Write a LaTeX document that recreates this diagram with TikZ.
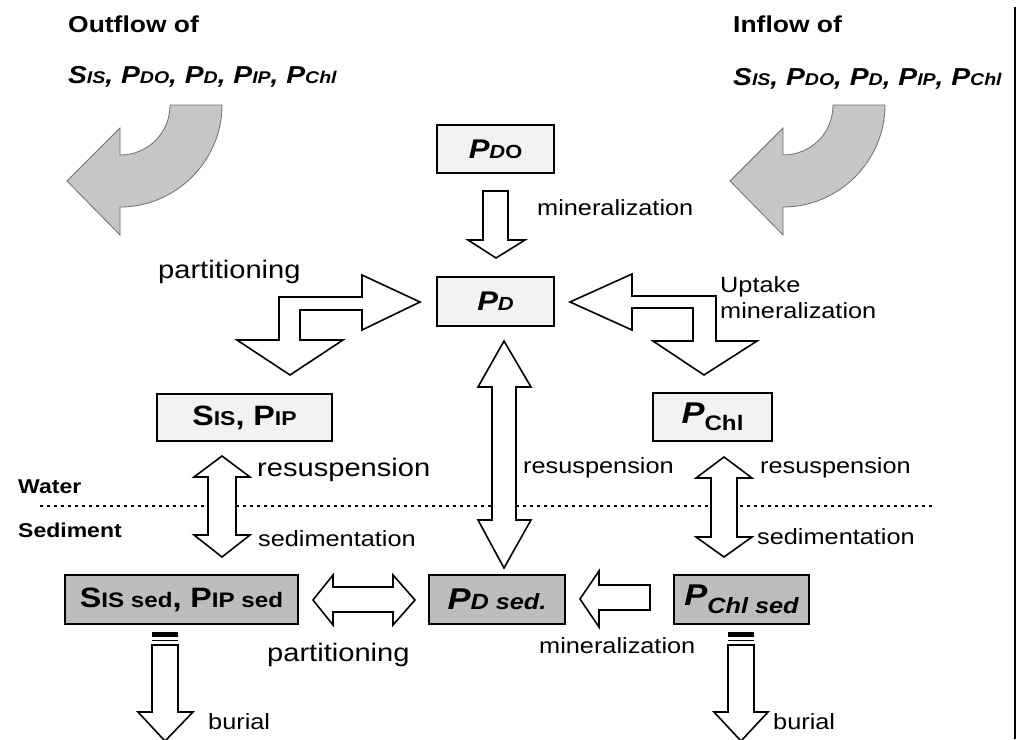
\documentclass[tikz,border=0pt]{standalone}
\usepackage{fontspec}
\setmainfont{Liberation Sans}[FakeStretch=1.15]
\newcommand{\fs}[1]{\fontsize{#1}{#1}\selectfont}
\newcommand{\biglist}{\bfseries\itshape{\fs{24.5}S}{\fs{17}IS}{\fs{24.5}, P}{\fs{17}DO}{\fs{24.5}, P}{\fs{17}D}{\fs{24.5}, P}{\fs{17}IP}{\fs{24.5}, P}{\fs{17}Chl}}
\definecolor{boxlight}{HTML}{F2F2F2}
\definecolor{boxdark}{HTML}{BDBDBD}
\definecolor{curvefill}{HTML}{C6C6C6}
\definecolor{curveline}{HTML}{6E6E6E}
\tikzset{
 box/.style={draw, line width=1.5pt, fill=boxlight, inner sep=0pt},
 sedbox/.style={box, fill=boxdark},
 blk/.style={draw, fill=white, line width=1.6pt, line join=miter},
 curv/.style={draw=curveline, fill=curvefill, line width=0.8pt},
 lbl/.style={anchor=west, inner sep=0pt, text height=11.4pt, text depth=0pt, font=\fs{22}},
 lblbig/.style={anchor=west, inner sep=0pt, text height=13.1pt, text depth=0pt, font=\fs{25.3}},
 hd/.style={anchor=west, inner sep=0pt, text height=16.5pt, text depth=0pt, font=\bfseries\fs{23}},
 wsd/.style={anchor=west, inner sep=0pt, text height=14.3pt, text depth=0pt, font=\bfseries\fs{20}},
}
\begin{document}
\begin{tikzpicture}[x=1pt,y=-1pt]
\useasboundingbox (0,0) rectangle (1025,739);
% frame line on the right
\draw[line width=2pt] (1015,7) -- (1015,739);
% headings
\node[hd] (outhd) at (68,24) {Outflow of};
\node[anchor=base west, inner sep=0pt] (outlist) at (68,83) {\biglist};
\node[hd] (inhd) at (733,24) {Inflow of};
\node[anchor=base west, inner sep=0pt] (inlist) at (733,85) {\biglist};
% curved gray arrows
\draw[curv] (170,105) -- (222,105) .. controls (222,161) and (176,207) .. (120,207) -- (120,235) -- (67,181) -- (120,128) -- (120,155) .. controls (148,155) and (170,133) .. (170,105) -- cycle;
\draw[curv] (833,105) -- (885,105) .. controls (885,161) and (839,207) .. (783,207) -- (783,235) -- (730,181) -- (783,128) -- (783,155) .. controls (811,155) and (833,133) .. (833,105) -- cycle;
% water / sediment boundary
\draw[line width=2.8pt, dash pattern=on 2.8pt off 4.2pt] (40,506) -- (932,506);
\node[wsd] (water) at (18,486) {Water};
\node[wsd] (sediment) at (18,530) {Sediment};
% boxes
\node[box, minimum width=117pt, minimum height=48pt] (pdo) at (495.5,149) {\bfseries\itshape{\fs{27}P}{\fs{19}D\upshape O}};
\node[box, minimum width=117pt, minimum height=49pt] (pd) at (495.5,301.5) {\bfseries\itshape{\fs{27}P}{\fs{19}D}};
\node[box, minimum width=175pt, minimum height=47pt] (sp) at (244.5,417.5) {\bfseries{\fs{28}S}{\fs{20}IS}{\fs{28}, P}{\fs{20}IP}};
\node[box, minimum width=119pt, minimum height=48pt] (pchl) at (712.5,417) {\bfseries{\fs{30}\itshape P}\raisebox{-7pt}{\fs{21}Chl}};
\node[sedbox, minimum width=233pt, minimum height=49pt] (ssed) at (181.5,599.5) {\bfseries{\fs{28}S}{\fs{21}IS sed}{\fs{28}, P}{\fs{21}IP sed}};
\node[sedbox, minimum width=136pt, minimum height=49pt] (pdsed) at (497,599.5) {\bfseries\itshape{\fs{30}P}{\fs{22}D sed.}};
\node[sedbox, minimum width=135pt, minimum height=49pt] (pchlsed) at (741.5,599.5) {\bfseries\itshape{\fs{30}P}\raisebox{-8pt}{\fs{22}Chl sed}};
% block arrows
\draw[blk] (483,191) -- (508,191) -- (508,240) -- (525,240) -- (496,258) -- (468,240) -- (483,240) -- cycle;
\draw[blk] (279,297) -- (362,297) -- (362,275) -- (420,302) -- (362,330) -- (362,310) -- (300,310) -- (300,340) -- (343,340) -- (290,375) -- (237,340) -- (279,340) -- cycle;
\draw[blk] (716,296) -- (632,296) -- (632,274) -- (570,302) -- (632,330) -- (632,308) -- (693,308) -- (693,341) -- (653,341) -- (704,375) -- (757,341) -- (716,341) -- cycle;
\draw[blk] (504,341) -- (531,387) -- (516,387) -- (516,520) -- (531,520) -- (504,568) -- (478,520) -- (492,520) -- (492,387) -- (478,387) -- cycle;
\draw[blk] (222,456) -- (250,477) -- (236,477) -- (236,535) -- (250,535) -- (222,557) -- (194,535) -- (208,535) -- (208,477) -- (194,477) -- cycle;
\draw[blk] (724,457) -- (752,478) -- (737,478) -- (737,537) -- (752,537) -- (724,557) -- (696,537) -- (711,537) -- (711,478) -- (696,478) -- cycle;
\draw[blk] (313,600) -- (333,575) -- (333,587) -- (393,587) -- (393,575) -- (415,600) -- (393,625) -- (393,612) -- (333,612) -- (333,625) -- cycle;
\draw[blk] (580,599) -- (599,571) -- (599,585) -- (650,585) -- (650,610) -- (599,610) -- (599,627) -- cycle;
% burial arrows with striped tops
\fill (152,632) rectangle (178,637);
\draw[line width=1.2pt] (152,640.5) -- (178,640.5);
\draw[blk] (152,645) -- (178,645) -- (178,712) -- (193,712) -- (165,741) -- (138,712) -- (152,712) -- cycle;
\fill (728,632) rectangle (754,637);
\draw[line width=1.2pt] (728,640.5) -- (754,640.5);
\draw[blk] (728,645) -- (754,645) -- (754,712) -- (768,712) -- (741,741) -- (714,712) -- (728,712) -- cycle;
% labels
\node[lbl] (lmin1) at (537,210) {mineralization};
\node[lblbig] (lpart1) at (158,272) {partitioning};
\node[lbl] (lupt) at (720,287) {Uptake};
\node[lbl] (lmin2) at (720,313) {mineralization};
\node[lblbig] (lres1) at (257,470) {resuspension};
\node[lbl] (lsed1) at (258,541) {sedimentation};
\node[lbl] (lres2) at (523,468) {resuspension};
\node[lbl] (lres3) at (760,468) {resuspension};
\node[lbl] (lsed2) at (757,539) {sedimentation};
\node[lblbig] (lpart2) at (267,655) {partitioning};
\node[lbl] (lmin3) at (539,648) {mineralization};
\node[lbl] (lbur1) at (208,724) {burial};
\node[lbl] (lbur2) at (773,724) {burial};
\end{tikzpicture}
\end{document}
